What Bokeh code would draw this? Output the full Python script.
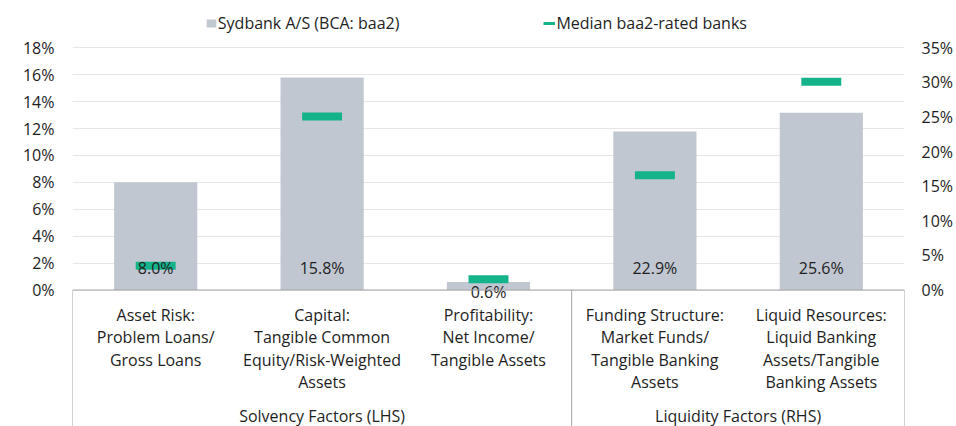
from bokeh.plotting import figure
from bokeh.models import (ColumnDataSource, FactorRange, Range1d, LinearAxis, FixedTicker,
                          Legend, LegendItem, PrintfTickFormatter)
from bokeh.core.properties import value
from bokeh.embed import file_html
from bokeh.resources import INLINE

# ---------------- data ----------------
categories = [
    "Asset Risk:\nProblem Loans/\nGross Loans",
    "Capital:\nTangible Common\nEquity/Risk-Weighted\nAssets",
    "Profitability:\nNet Income/\nTangible Assets",
    "Funding Structure:\nMarket Funds/\nTangible Banking\nAssets",
    "Liquid Resources:\nLiquid Banking\nAssets/Tangible\nBanking Assets",
]
groups = ["Solvency Factors (LHS)", "Liquidity Factors (RHS)"]
group_of = [0, 0, 0, 1, 1]
axis_of = ["left", "left", "left", "right", "right"]
sydbank = [8.0, 15.8, 0.6, 22.9, 25.6]
median = [1.8, 12.9, 0.8, 16.6, 30.1]
series_names = ["Sydbank A/S (BCA: baa2)", "Median baa2-rated banks"]
left_ticks = [0, 2, 4, 6, 8, 10, 12, 14, 16, 18]
right_ticks = [0, 5, 10, 15, 20, 25, 30, 35]

# ---------------- style / geometry ----------------
FONT = "Open Sans"
TXT = "#1e1e1e"
BAR = "#c1c7d1"
GREEN = "#14b38a"
AXIS = "#a6a6a6"
GRID = "#e6e6e6"
W, H = 956, 426
FL, FR = 72, 52           # frame left / right borders
TOP_PX, ZERO_PX = 47.3, 289.5   # screen y of left max tick and zero
LMAX, RMAX = left_ticks[-1], right_ticks[-1]
ppu = (ZERO_PX - TOP_PX) / LMAX
y_end = LMAX + TOP_PX / ppu
y_start = -(H - ZERO_PX) / ppu
r_scale = RMAX / LMAX

p = figure(width=W, height=H, output_backend="svg", toolbar_location=None,
           x_range=FactorRange(factors=categories), y_range=Range1d(y_start, y_end),
           x_axis_location=None, y_axis_location="left",
           min_border_left=FL, min_border_right=FR, min_border_top=0, min_border_bottom=0)
p.outline_line_color = None
p.background_fill_color = "white"
p.border_fill_color = "white"
p.extra_y_ranges = {"right": Range1d(y_start * r_scale, y_end * r_scale)}

def style_axis(ax, ticks, standoff):
    ax.ticker = FixedTicker(ticks=ticks)
    ax.formatter = PrintfTickFormatter(format="%d%%")
    ax.axis_line_color = None
    ax.major_tick_line_color = None
    ax.minor_tick_line_color = None
    ax.major_tick_in = 0
    ax.major_tick_out = 0
    ax.major_label_standoff = standoff
    ax.major_label_text_font = FONT
    ax.major_label_text_font_size = "16px"
    ax.major_label_text_color = TXT

style_axis(p.yaxis[0], left_ticks, 18)
raxis = LinearAxis(y_range_name="right")
style_axis(raxis, right_ticks, 17)
p.add_layout(raxis, "right")
p.xgrid.visible = False
p.ygrid.grid_line_color = GRID
p.ygrid.grid_line_width = 1

# split per axis
def subset(side):
    idx = [i for i in range(len(categories)) if axis_of[i] == side]
    return ColumnDataSource(dict(
        x=[categories[i] for i in idx],
        top=[sydbank[i] for i in idx],
        med=[median[i] for i in idx],
    ))

renderers = {}
for side in ["left", "right"]:
    src = subset(side)
    kw = {} if side == "left" else {"y_range_name": "right"}
    renderers[side] = p.vbar(x="x", top="top", width=0.5, source=src,
                             fill_color=BAR, line_color=None, **kw)
    p.rect(x="x", y="med", width=0.24, height=8, height_units="screen", source=src,
           fill_color=GREEN, line_color=None, **kw)

# value labels (inside base)
lab_x, lab_t, lab_off = [], [], []
for i, c in enumerate(categories):
    scale = ppu if axis_of[i] == "left" else ppu / r_scale
    hpx = sydbank[i] * scale
    lab_x.append(c)
    lab_t.append(f"{sydbank[i]:.1f}%")
    lab_off.append(-22.5 if hpx > 30 else 2.0)
p.text(x="x", y=0, text="t", y_offset="off",
       source=ColumnDataSource(dict(x=lab_x, t=lab_t, off=lab_off)),
       text_font=value(FONT), text_font_size="16px", text_color=TXT,
       text_align="center", text_baseline="middle")

# category labels
p.text(x=categories, y=[0] * len(categories), text=categories, y_offset=14,
       text_font=value(FONT), text_font_size="16px", text_color=TXT,
       text_align="center", text_baseline="top", text_line_height=1.02)

# group labels & separators
g_x, bounds = [], []
for g in range(len(groups)):
    idx = [i for i in range(len(categories)) if group_of[i] == g]
    f, l = idx[0], idx[-1]
    g_x.append((categories[f], (l - f) / 2))
    if g == 0:
        bounds.append((categories[f], -0.5))
    bounds.append((categories[l], 0.5))
p.text(x=g_x, y=[0] * len(groups), text=groups, y_offset=126,
       text_font=value(FONT), text_font_size="16px", text_color=TXT,
       text_align="center", text_baseline="middle")
p.segment(x0=bounds, x1=bounds, y0=[0] * len(bounds), y1=[y_start] * len(bounds),
          line_color=AXIS, line_width=1)
p.segment(x0=[bounds[0]], x1=[bounds[-1]], y0=[0], y1=[0], line_color=AXIS, line_width=1.2)

# legend
leg_line = p.line(x=[categories[0]], y=[float("nan")], line_color=GREEN, line_width=3)
legend = Legend(items=[LegendItem(label=series_names[0], renderers=[renderers["left"]]),
                       LegendItem(label=series_names[1], renderers=[leg_line])],
                orientation="horizontal", location=(132.8, 392),
                glyph_width=12, glyph_height=10, label_standoff=1, spacing=144,
                padding=0, margin=0, border_line_color=None, background_fill_alpha=0,
                label_text_font=FONT, label_text_font_size="16px", label_text_color=TXT)
p.add_layout(legend)

open("out.html", "w").write(file_html(p, INLINE))
